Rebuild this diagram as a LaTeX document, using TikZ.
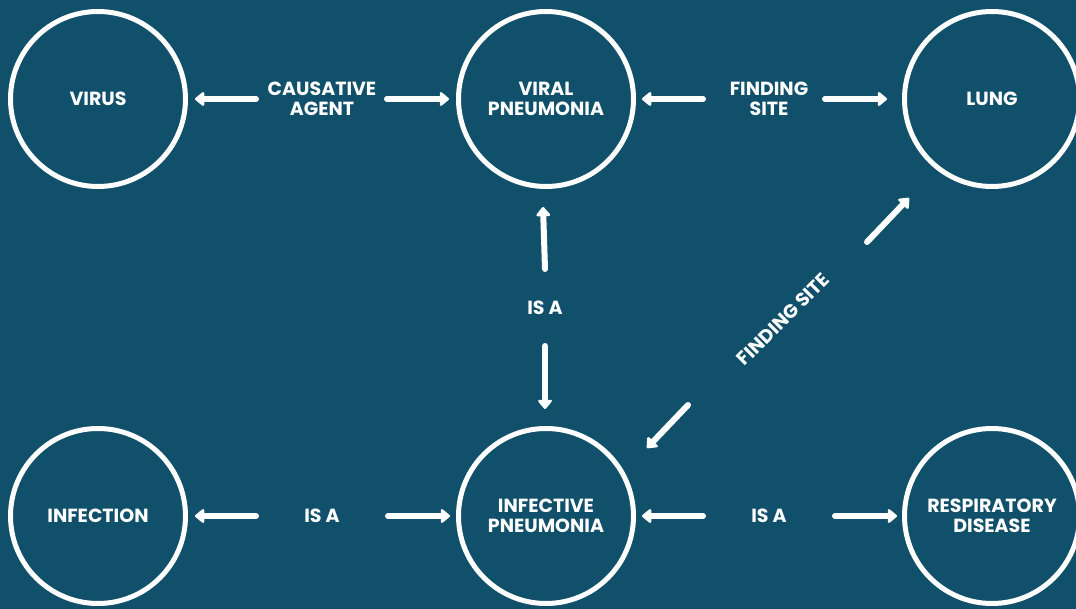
\documentclass[tikz,border=0pt]{standalone}
\usepackage{fontspec}
\setmainfont{Poppins}
\usetikzlibrary{arrows.meta,calc}
\definecolor{bg}{RGB}{17,80,106}
\begin{document}
\begin{tikzpicture}[x=1pt,y=-1pt,
  txt/.style={text=white,font=\bfseries\fontsize{19}{20}\selectfont,align=center},
  conc/.style={txt,circle,draw=white,line width=5pt,minimum size=175pt,inner sep=0pt},
  lab/.style={txt,inner sep=0pt},
  arr/.style={draw=white,line width=6pt,line cap=round,-{Triangle[round,length=10pt,width=16pt]}}]
\fill[bg] (0,0) rectangle (1076,609);
\useasboundingbox (0,0) rectangle (1076,609);
% concepts
\node[conc] (virus) at (98,99) {VIRUS};
\node[conc] (viral) at (546,99) {VIRAL\\PNEUMONIA};
\node[conc] (lung) at (992,99) {LUNG};
\node[conc] (infection) at (98,516) {INFECTION};
\node[conc] (infective) at (546,516) {INFECTIVE\\PNEUMONIA};
\node[conc] (resp) at (992,516) {RESPIRATORY\\DISEASE};
% labels
\node[lab] (lca) at (322,99) {CAUSATIVE\\AGENT};
\node[lab] (lfs) at (769,99) {FINDING\\SITE};
\node[lab] (lisv) at (545,308) {IS A};
\node[lab] (lis1) at (322,516) {IS A};
\node[lab] (lis2) at (769,516) {IS A};
\node[lab,rotate=45] (lfsd) at (783,319) {FINDING SITE};
% arrow end points
\coordinate (a1t) at (256,99);  \coordinate (a1h) at (195,99);
\coordinate (a2t) at (387,99);  \coordinate (a2h) at (449,99);
\coordinate (a3t) at (703,99);  \coordinate (a3h) at (642,99);
\coordinate (a4t) at (825,99);  \coordinate (a4h) at (887,99);
\coordinate (a5t) at (545,269); \coordinate (a5h) at (543,207);
\coordinate (a6t) at (545,346); \coordinate (a6h) at (545,409);
\coordinate (a7t) at (867,242); \coordinate (a7h) at (909,198);
\coordinate (a8t) at (688,405); \coordinate (a8h) at (647,448);
\coordinate (b1t) at (256,516); \coordinate (b1h) at (195,516);
\coordinate (b2t) at (388,516); \coordinate (b2h) at (450,516);
\coordinate (b3t) at (703,516); \coordinate (b3h) at (642,516);
\coordinate (b4t) at (835,516); \coordinate (b4h) at (897,516);
\foreach \a in {a1,a2,a3,a4,a5,a6,a7,a8,b1,b2,b3,b4}
  \draw[arr] (\a t) -- (\a h);
\end{tikzpicture}
\end{document}
